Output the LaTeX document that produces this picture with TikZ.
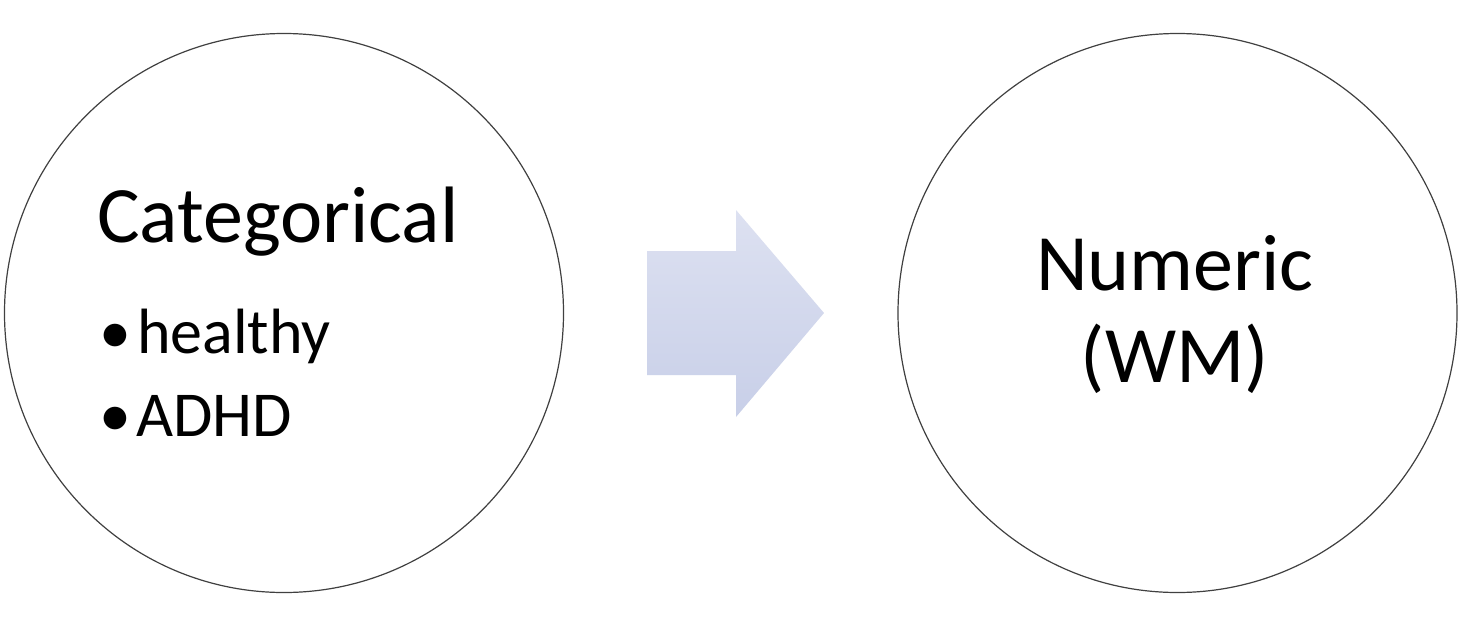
\documentclass[tikz,border=0pt]{standalone}
\usepackage{fontspec}
\setmainfont{Carlito}
\definecolor{arrowtop}{HTML}{DDE1F1}
\definecolor{arrowbot}{HTML}{C8CFE8}
\definecolor{ringcol}{HTML}{404040}
\begin{document}
\begin{tikzpicture}[x=1pt,y=-1pt,
  ring/.style={circle, draw=ringcol, line width=1.2pt, inner sep=0pt, minimum size=559pt},
  bigtext/.style={font=\fontsize{80}{96}\selectfont, inner sep=0pt},
  smalltext/.style={font=\fontsize{64}{77}\selectfont, inner sep=0pt, anchor=base west}]
\useasboundingbox (0,0) rectangle (1466,632);
\fill[white] (0,0) rectangle (1466,632);
\node[ring] (left) at (284,313) {};
\node[ring] (right) at (1177.5,313) {};
% text of left circle
\node[bigtext, anchor=base west] (cat) at (97,242) {Categorical};
\node[smalltext] (bul1) at (99,353) {•};
\node[smalltext] (healthy) at (137,353) {healthy};
\node[smalltext] (bul2) at (99,436) {•};
\node[smalltext] (adhd) at (136,436) {ADHD};
% text of right circle
\node[bigtext, anchor=base] (num) at (1175,290) {Numeric};
\node[bigtext, anchor=base] (wm) at (1175,382) {(WM)};
% block arrow
\shade[top color=arrowtop, bottom color=arrowbot]
  (647,251) -- (736,251) -- (736,210) -- (824,313) -- (736,417) -- (736,375) -- (647,375) -- cycle;
\end{tikzpicture}
\end{document}
